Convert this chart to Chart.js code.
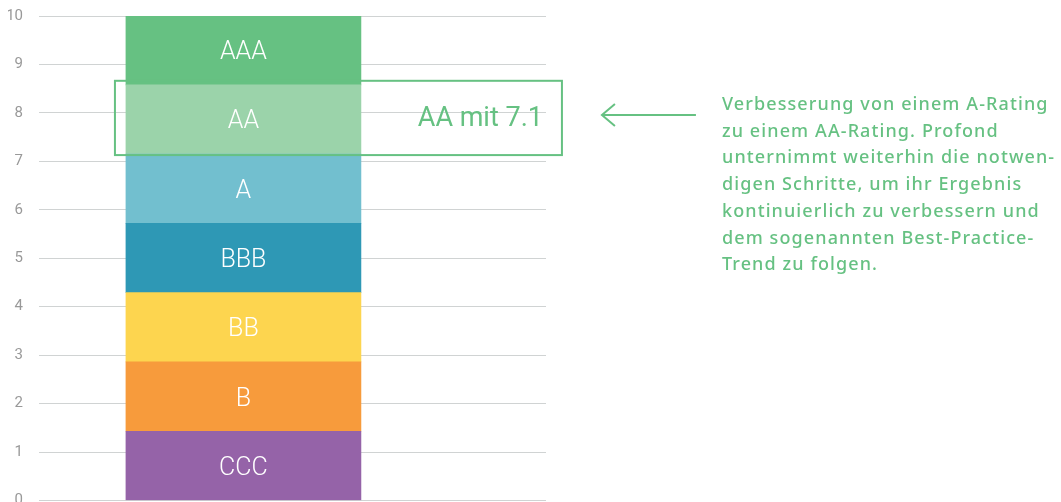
<!DOCTYPE html>
<html lang="de">
<head>
<meta charset="utf-8">
<script src="https://cdn.jsdelivr.net/npm/chart.js@4.4.1/dist/chart.umd.min.js"></script>
<style>
  html, body { margin: 0; padding: 0; background: #fff; overflow: hidden; }
  #wrap { position: relative; width: 1061px; height: 502px; }
  #note {
    position: absolute; left: 722px; top: 90px;
    font: 500 18px 'Noto Sans', sans-serif; line-height: 26.7px;
    letter-spacing: 1.1px; color: #66c182; white-space: nowrap;
  }
</style>
</head>
<body>
<div id="wrap">
  <canvas id="rating"></canvas>
  <div id="note">Verbesserung von einem A-Rating<br>zu einem AA-Rating. Profond<br>unternimmt weiterhin die notwen-<br>digen Schritte, um ihr Ergebnis<br>kontinuierlich zu verbessern und<br>dem sogenannten Best-Practice-<br>Trend zu folgen.</div>
</div>
<script>
const ratingLabels = ['CCC', 'B', 'BB', 'BBB', 'A', 'AA', 'AAA'];
const ratingBands = [1.43, 1.43, 1.43, 1.43, 1.43, 1.43, 1.42];
const ratingColors = ['#9563a8', '#f79b3c', '#fdd54f', '#2e98b5', '#72bfcf', '#9bd3aa', '#66c182'];
const highlightRating = 'AA';
const ratingScore = 7.1;
const barX = 2;

const GREEN = '#66c182';

const ratingPlugin = {
    id: 'ratingPlugin',
    afterDatasetsDraw(chart) {
        const { ctx } = chart;
        ctx.save();

        // labels inside segments
        ctx.fillStyle = '#fff';
        ctx.font = '300 25px Roboto';
        ctx.textAlign = 'center';
        ctx.textBaseline = 'alphabetic';
        chart.data.datasets.forEach((ds, i) => {
            const bar = chart.getDatasetMeta(i).data[0];
            ctx.fillText(ds.label, bar.x, (bar.y + bar.base) / 2 + 9);
        });

        // highlight box around current rating
        const bar = chart.getDatasetMeta(ratingLabels.indexOf(highlightRating)).data[0];
        const left = bar.x - bar.width / 2 - 11;
        const right = left + 447;
        const top = bar.y - 4;
        const bottom = bar.base + 1;
        ctx.strokeStyle = GREEN;
        ctx.lineWidth = 2;
        ctx.strokeRect(left, top, right - left, bottom - top);

        ctx.fillStyle = GREEN;
        ctx.font = '400 27px Roboto';
        ctx.textAlign = 'right';
        ctx.fillText(highlightRating + ' mit ' + ratingScore, right - 19, (bar.y + bar.base) / 2 + 7);

        // arrow
        const ay = (top + bottom) / 2 - 3;
        const tip = right + 40;
        ctx.beginPath();
        ctx.moveTo(right + 134, ay);
        ctx.lineTo(tip, ay);
        ctx.moveTo(tip + 13, ay - 11);
        ctx.lineTo(tip, ay);
        ctx.lineTo(tip + 13, ay + 11);
        ctx.stroke();

        ctx.restore();
    },
};

new Chart(document.getElementById('rating'), {
    type: 'bar',
    data: {
        datasets: ratingLabels.map((label, i) => ({
            label,
            data: [{ x: barX, y: ratingBands[i] }],
            backgroundColor: ratingColors[i],
            borderWidth: 0,
            barThickness: 235,
        })),
    },
    options: {
        responsive: true,
        maintainAspectRatio: false,
        animation: false,
        layout: { padding: { left: 8, right: 515, top: 16, bottom: 1.5 } },
        plugins: { legend: { display: false }, tooltip: { enabled: false } },
        scales: {
            x: { type: 'linear', min: 0, max: 4.96, offset: false, stacked: true, display: false },
            y: {
                min: 0,
                max: 10,
                stacked: true,
                border: { display: false },
                grid: { color: '#d0d3d3', drawTicks: false },
                ticks: {
                    stepSize: 1,
                    padding: 16,
                    color: '#999',
                    font: { family: 'Roboto', size: 15 },
                },
                afterFit(scale) {
                    // labels hang outside the plot, as in the original
                    scale.width = 31;
                    scale.paddingTop = 0;
                    scale.paddingBottom = 0;
                },
            },
        },
    },
    plugins: [ratingPlugin],
});
</script>
</body>
</html>
